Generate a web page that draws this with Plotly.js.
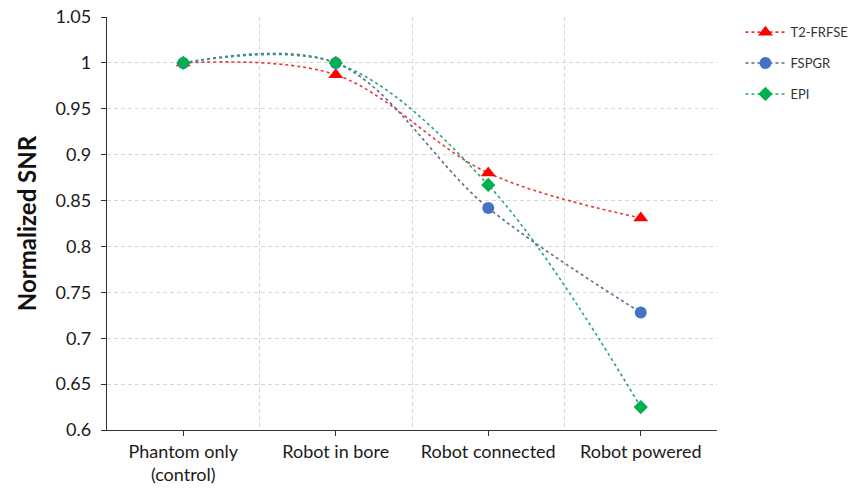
<!DOCTYPE html>
<html>
<head>
<meta charset="utf-8">
<script src="https://cdn.plot.ly/plotly-3.0.1.min.js"></script>
<style>html,body{margin:0;padding:0;background:#fff;}#chart{width:859px;height:492px;}</style>
</head>
<body>
<div id="chart"></div>
<script>
var categories = ["Phantom only<br>(control)", "Robot in bore", "Robot connected", "Robot powered"];
var xIndex = [0, 1, 2, 3];
var t2frfse = [1.0, 0.987, 0.880, 0.831];
var fspgr = [1.0, 1.0, 0.842, 0.728];
var epi = [1.0, 1.0, 0.867, 0.625];
var yTicks = [0.6, 0.65, 0.7, 0.75, 0.8, 0.85, 0.9, 0.95, 1, 1.05];
var yTickText = ["0.6", "0.65", "0.7", "0.75", "0.8", "0.85", "0.9", "0.95", "1", "1.05"];

var font = "Lato, 'Open Sans', sans-serif";

var traces = [
  {x: xIndex, y: t2frfse, name: "T2-FRFSE", mode: "lines+markers", legendgroup: "a",
   line: {color: "#E8383A", dash: "dot", width: 1.6, shape: "spline", smoothing: 1},
   marker: {symbol: "triangle-up", size: 13, color: "#FF0000"}},
  {x: xIndex, y: fspgr, name: "FSPGR", mode: "lines+markers", legendgroup: "b",
   line: {color: "#5A6D8A", dash: "dot", width: 1.6, shape: "spline", smoothing: 1},
   marker: {symbol: "circle", size: 12, color: "#4472C4"}},
  {x: xIndex, y: epi, name: "EPI", mode: "lines+markers", legendgroup: "c",
   line: {color: "#2AA184", dash: "dot", width: 1.6, shape: "spline", smoothing: 1},
   marker: {symbol: "diamond", size: 11, color: "#00B050"}}
];

var layout = {
  width: 859, height: 492,
  margin: {l: 107, r: 142, t: 17, b: 62, autoexpand: false},
  paper_bgcolor: "#fff", plot_bgcolor: "#fff",
  font: {family: font, color: "#1a1a1a", size: 18},
  showlegend: true,
  legend: {xref: "container", yref: "container", x: 0.862, y: 0.965, xanchor: "left", yanchor: "top",
    font: {family: font, size: 13, color: "#333"},
    traceorder: "grouped", tracegroupgap: 11, itemwidth: 40},
  xaxis: {
    range: [-0.5, 3.5], tickmode: "array", tickvals: xIndex, ticktext: categories,
    showgrid: false, zeroline: false,
    showline: true, linecolor: "#333", linewidth: 1.3,
    ticks: "outside", ticklen: 5, tickcolor: "#333",
    tickfont: {family: font, size: 18, color: "#1a1a1a"},
    minor: {tickvals: [0.5, 1.5, 2.5, 3.5], showgrid: true, gridcolor: "#D6D6D6", griddash: "4px,3px", gridwidth: 1, ticks: ""}
  },
  yaxis: {
    range: [0.6, 1.05], tickmode: "array", tickvals: yTicks, ticktext: yTickText,
    showgrid: true, gridcolor: "#D6D6D6", griddash: "4px,3px", gridwidth: 1, zeroline: false,
    showline: true, linecolor: "#333", linewidth: 1.3,
    ticks: "outside", ticklen: 5, tickcolor: "#333", ticklabelstandoff: 6,
    tickfont: {family: font, size: 18, color: "#1a1a1a"},
    title: {text: "<b>Normalized SNR</b>", font: {family: font, size: 24, color: "#111"}, standoff: 12}
  }
};

Plotly.newPlot("chart", traces, layout, {displayModeBar: false, staticPlot: true});
</script>
</body>
</html>
